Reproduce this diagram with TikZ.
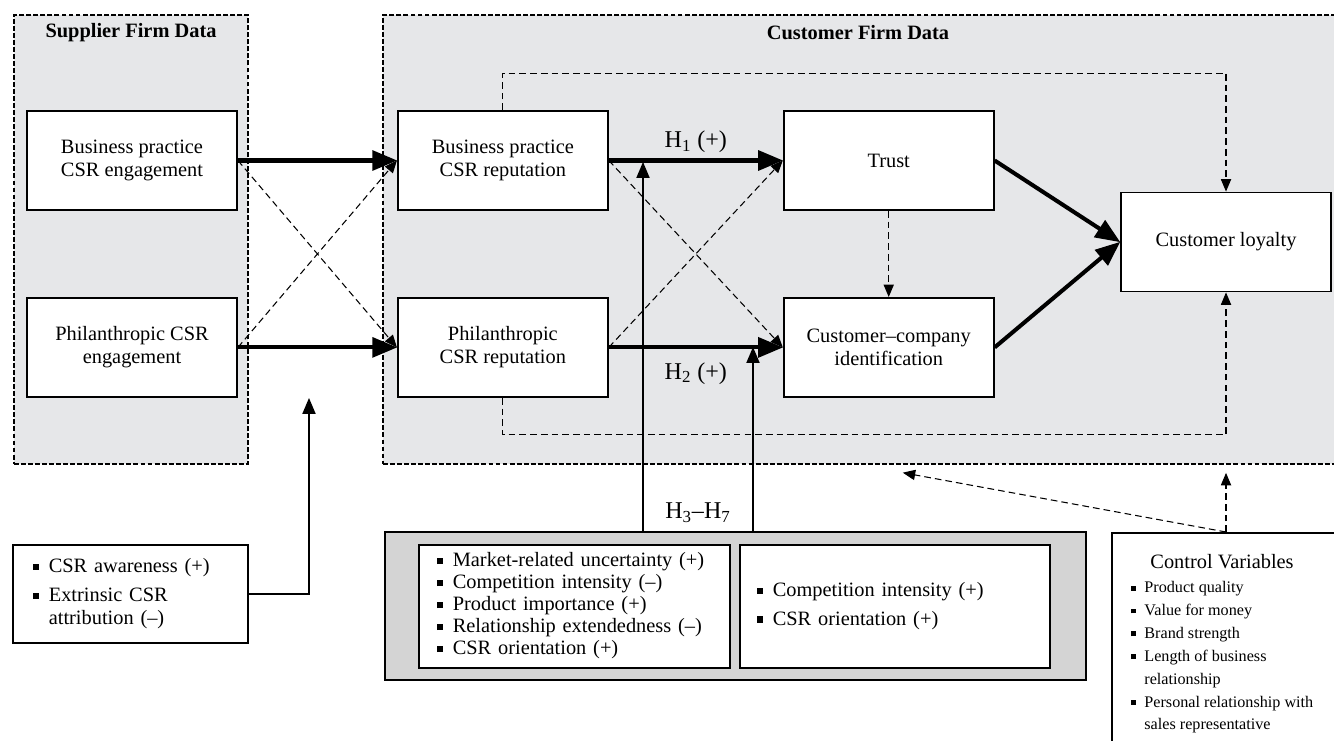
\documentclass[tikz,border=0pt]{standalone}
\usepackage{fontspec}
\setmainfont{Liberation Serif}
\usetikzlibrary{arrows,positioning}
\definecolor{panelGray}{RGB}{230,231,233}
\definecolor{modGray}{RGB}{212,212,212}
\newcommand{\sqBullet}{\raisebox{0.3ex}{\rule{0.3em}{0.3em}}}

\begin{document}
\begin{tikzpicture}
	[ x=0.02cm, y=-0.02cm,
		font=\fontsize{11.6pt}{13pt}\selectfont,
		node distance=1.72cm and 3.18cm,
		concept/.style={rectangle,draw,fill=white,line width=1.1pt,minimum width=4.2cm,minimum height=1.98cm,align=center},
		panel/.style={rectangle,draw,fill=panelGray,line width=1.1pt,dash pattern=on 2.8pt off 1.2pt},
		listBox/.style={rectangle,draw,fill=white,line width=1.1pt,align=left,font=\fontsize{11.6pt}{12.5pt}\selectfont},
		panelTitle/.style={font=\fontsize{11.6pt}{13pt}\selectfont\bfseries},
		hLabel/.style={font=\fontsize{13.7pt}{15pt}\selectfont},
		arrowMain/.style={-triangle 45,line width=2.3pt},
		arrowDash/.style={-triangle 45,line width=0.6pt,dash pattern=on 3.8pt off 2.3pt},
		arrowMod/.style={-triangle 45,line width=1.1pt}]

	\useasboundingbox (0,0) rectangle (1334,740);

	% data panels
	\node[panel,minimum width=4.68cm,minimum height=8.98cm] (supPanel) at (131,239.5) {};
	\node[panel,minimum width=19.1cm,minimum height=8.98cm] (custPanel) at (860.5,239.5) {};
	\node[panelTitle] (supTitle) at (131,33) {Supplier Firm Data};
	\node[panelTitle] (custTitle) at (858,33) {Customer Firm Data};

	% constructs
	\node[concept] (bpEng) at (132,160.5) {Business practice\\CSR engagement};
	\node[concept] (phEng) [below=of bpEng] {Philanthropic CSR\\engagement};
	\node[concept] (bpRep) [right=of bpEng] {Business practice\\CSR reputation};
	\node[concept] (phRep) [below=of bpRep] {Philanthropic\\CSR reputation};
	\node[concept] (trust) [right=3.48cm of bpRep] {Trust};
	\node[concept] (cci) [below=of trust] {Customer--company\\identification};
	\node[concept] (loyal) at (1226,242) {Customer loyalty};

	\draw[arrowMain] (bpEng) -- (bpRep);
	\draw[arrowMain] (phEng) -- (phRep);
	\draw[arrowDash] (bpEng.east) -- (phRep.west);
	\draw[arrowDash] (phEng.east) -- (bpRep.west);
	\draw[arrowMain] (bpRep) -- node[hLabel,above] (h1Lab) {H\textsubscript{1} (+)} (trust);
	\draw[arrowMain] (phRep) -- node[hLabel,below=4pt] (h2Lab) {H\textsubscript{2} (+)} (cci);
	\draw[arrowDash] (bpRep.east) -- (cci.west);
	\draw[arrowDash] (phRep.east) -- (trust.west);
	\draw[arrowDash] (trust) -- (cci);
	\draw[arrowMain] (trust.east) -- (loyal.west);
	\draw[arrowMain] (cci.east) -- (loyal.west);
	\draw[arrowDash] (bpRep.north) -- ++(0,-37) -| (loyal.north);
	\draw[arrowDash] (phRep.south) -- ++(0,37) -| (loyal.south);

	% moderators
	\node[rectangle,draw,fill=modGray,line width=1.1pt,minimum width=14.02cm,minimum height=2.96cm] (modBox) at (735.5,606) {};
	\node[listBox,text width=5.5cm,inner xsep=0.36cm,minimum height=2.46cm] (modLeft) at (574.5,606.5)
		{\begin{tabular}{@{}l@{\hspace{5.5pt}}l@{}}
			\sqBullet & Market-related uncertainty (+)\\
			\sqBullet & Competition intensity (--)\\
			\sqBullet & Product importance (+)\\
			\sqBullet & Relationship extendedness (--)\\
			\sqBullet & CSR orientation (+)
		\end{tabular}};
	\node[listBox,text width=5.52cm,inner xsep=0.34cm,minimum height=2.46cm] (modRight) at (895,606.5)
		{\begin{tabular}{@{}l@{\hspace{5.5pt}}l@{}}
			\sqBullet & Competition intensity (+)\\[3.9pt]
			\sqBullet & CSR orientation (+)
		\end{tabular}};
	\node[hLabel] (h37Lab) at (698,513) {H\textsubscript{3}--H\textsubscript{7}};
	\coordinate (h1Pt) at (643,162);
	\coordinate (h2Pt) at (753,347);
	\draw[arrowMod] (modBox.north -| h1Pt) -- (h1Pt);
	\draw[arrowMod] (modBox.north -| h2Pt) -- (h2Pt);

	\node[listBox,text width=3.9cm,inner xsep=0.4cm,minimum width=4.7cm,minimum height=1.96cm,font=\fontsize{11.6pt}{13pt}\selectfont] (awareBox) at (130.5,594)
		{\begin{tabular}{@{}l@{\hspace{5.5pt}}l@{}}
			\sqBullet & CSR awareness (+)\\[3.4pt]
			\sqBullet & Extrinsic CSR\\
			& attribution (--)
		\end{tabular}};
	\coordinate (awareTip) at (309,398);
	\draw[arrowMod] (awareBox.east) -| (awareTip);

	% controls
	\node[rectangle,draw,fill=white,line width=1.1pt,anchor=north west,minimum width=4.7cm,minimum height=4.6cm] (ctrlBox) at (1111,532) {};
	\node[anchor=north,font=\fontsize{9.2pt}{13pt}\selectfont] (ctrlText) at (1222,546)
		{\begin{tabular}{@{}l@{\hspace{5pt}}l@{}}
			\multicolumn{2}{c}{\fontsize{11.6pt}{13pt}\selectfont Control Variables}\\[1pt]
			\sqBullet & Product quality\\
			\sqBullet & Value for money\\
			\sqBullet & Brand strength\\
			\sqBullet & Length of business\\
			& relationship\\
			\sqBullet & Personal relationship with\\
			& sales representative
		\end{tabular}};
	\draw[arrowDash,shorten >=0.16cm] (ctrlBox.north -| loyal) -- (custPanel.south -| loyal);
	\draw[arrowDash,shorten >=0.86cm] (ctrlBox.north -| loyal) -- (custPanel.south);
\end{tikzpicture}
\end{document}
